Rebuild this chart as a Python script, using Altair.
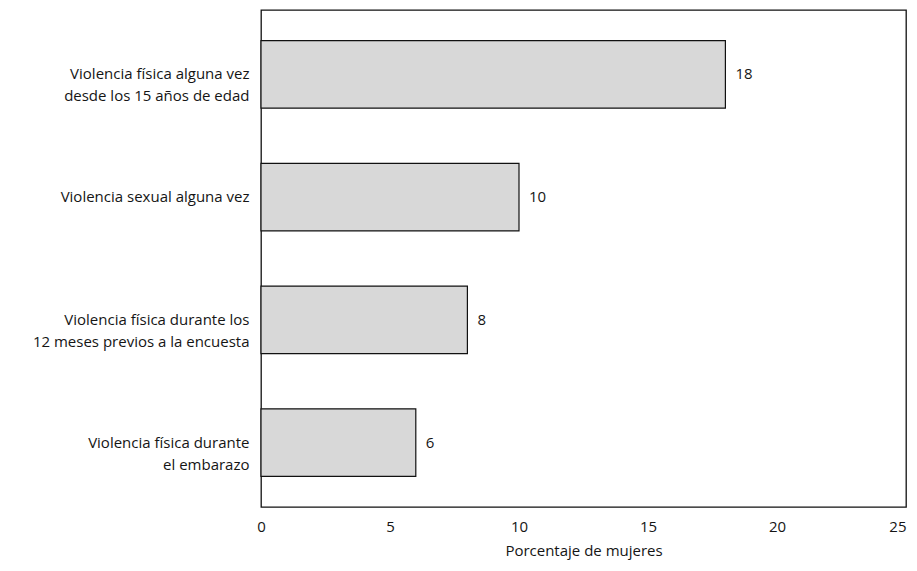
import altair as alt
import pandas as pd

categories = [
    "Violencia física alguna vez|desde los 15 años de edad",
    "Violencia sexual alguna vez",
    "Violencia física durante los|12 meses previos a la encuesta",
    "Violencia física durante|el embarazo",
]
values = [18, 10, 8, 6]

df = pd.DataFrame({"cat": categories, "val": values})

FONT = "Open Sans"
TXT = "#151515"

base = alt.Chart(df).encode(
    y=alt.Y(
        "cat:N",
        sort=categories,
        title=None,
        scale=alt.Scale(paddingInner=0.45, paddingOuter=0.25),
        axis=alt.Axis(
            ticks=False,
            domain=False,
            labelPadding=12,
            labelFontSize=15,
            labelFont=FONT,
            labelColor=TXT,
            labelLimit=400,
            labelLineHeight=22,
            labelExpr="split(datum.label, '|')",
        ),
    ),
)

bars = base.mark_bar(
    fill="#d8d8d8", stroke="#111111", strokeWidth=1.2
).encode(
    x=alt.X(
        "val:Q",
        scale=alt.Scale(domain=[0, 25], nice=False),
        title="Porcentaje de mujeres",
        axis=alt.Axis(
            values=[0, 5, 10, 15, 20, 25],
            ticks=False,
            domain=False,
            grid=False,
            labelFlush=False,
            labelAlign=alt.ExprRef("datum.value == 25 ? 'right' : 'center'"),
            labelPadding=12,
            labelFontSize=15,
            labelFont=FONT,
            labelColor=TXT,
            titleFont=FONT,
            titleFontSize=15,
            titleFontWeight="normal",
            titleColor=TXT,
            titlePadding=9,
        ),
    )
)

text = base.mark_text(
    align="left", dx=10, fontSize=15, font=FONT, color=TXT
).encode(x="val:Q", text="val:Q")

chart = (
    (bars + text)
    .properties(
        width=645,
        height=497,
        background="white",
        autosize=alt.AutoSizeParams(type="none"),
        padding={"left": 253, "top": 2, "right": 3, "bottom": 56},
    )
    .configure_view(stroke="#111111", strokeWidth=1.3)
)

chart.save("out.html", embed_options={"renderer": "svg", "actions": False})
